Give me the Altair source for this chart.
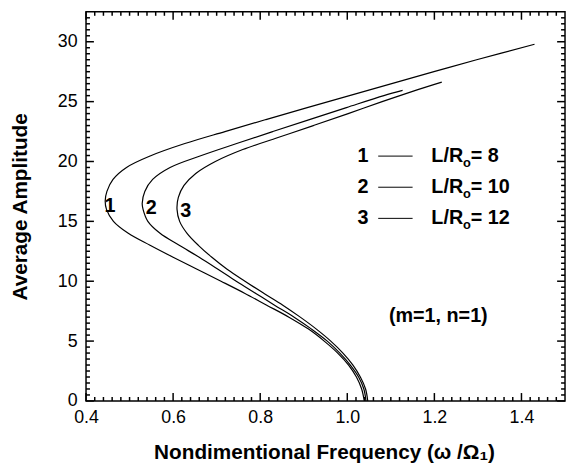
import altair as alt
import pandas as pd
import numpy as np

# ---- curve data: amplitude levels and frequency of each curve ----
c1_y = [0, 1, 2, 3, 4, 5, 6, 7, 8, 9, 10, 11, 12, 13, 14, 15, 16, 16.7, 17.5, 18.5, 19.5, 20.5, 21.5, 22.5,
        23.5, 24.5, 25.5, 26.5, 27.5, 28.5, 29.79]
c1_x = [1.039, 1.033, 1.021, 1.003, 0.978, 0.947, 0.911, 0.866, 0.815, 0.764, 0.710, 0.655, 0.600, 0.547,
        0.497, 0.463, 0.447, 0.444, 0.448, 0.462, 0.493, 0.550, 0.627, 0.719, 0.813, 0.908, 1.005, 1.102,
        1.199, 1.297, 1.430]
c2_y = [0, 1, 2, 3, 4, 5, 6, 7, 8, 9, 10, 11, 12, 13, 14, 15, 16, 16.5, 17.5, 18.5, 19.5, 20.5, 21.5, 22.5,
        23.5, 24.5, 25.5, 25.94]
c2_x = [1.043, 1.038, 1.026, 1.007, 0.983, 0.954, 0.918, 0.878, 0.833, 0.789, 0.745, 0.703, 0.660, 0.614,
        0.570, 0.542, 0.531, 0.529, 0.535, 0.553, 0.593, 0.665, 0.746, 0.829, 0.913, 0.998, 1.084, 1.127]
c3_y = [0, 1, 2, 3, 4, 5, 6, 7, 8, 9, 10, 11, 12, 13, 14, 15, 16, 17, 18, 19, 20, 21, 22, 23, 24, 25, 26,
        26.63]
c3_x = [1.047, 1.042, 1.030, 1.013, 0.990, 0.962, 0.929, 0.892, 0.852, 0.808, 0.765, 0.724, 0.689, 0.658,
        0.632, 0.615, 0.609, 0.612, 0.625, 0.652, 0.697, 0.760, 0.841, 0.922, 1.002, 1.080, 1.162, 1.217]

curve_names = ["1", "2", "3"]
ratios = ["8", "10", "12"]

# annotation positions (data units)
label_x = [0.455, 0.550, 0.629]
label_y = [16.3, 16.1, 15.9]
legend_y = [20.45, 17.85, 15.25]
legend_num_x = 1.036
legend_line_x = [1.071, 1.150]
legend_text_x = 1.193
note_text = "(m=1, n=1)"
note_x, note_y = 1.209, 7.1

x_major = [0.4, 0.6, 0.8, 1.0, 1.2, 1.4]
y_major = [0, 5, 10, 15, 20, 25, 30]

rows = []
for name, xs_, ys_ in zip(curve_names, [c1_x, c2_x, c3_x], [c1_y, c2_y, c3_y]):
    for i, (a, b) in enumerate(zip(xs_, ys_)):
        rows.append({"curve": name, "x": a, "y": b, "order": i})
df = pd.DataFrame(rows)

W, H = 485, 394
FONT = "Liberation Sans"
xsc = alt.Scale(domain=[0.4, 1.5], nice=False, zero=False)
ysc = alt.Scale(domain=[0, 32.5], nice=False, zero=False)

X_AXIS = alt.Axis(values=x_major, format=".1f", title="Nondimentional Frequency (ω /Ω₁)",
                  labelPadding=8, labelFlush=False, titleX=241, titleY=52,
                  titleBaseline="middle", titleAlign="center")
Y_AXIS = alt.Axis(values=y_major, format="d", title="Average Amplitude",
                  labelPadding=9, labelFlush=False, titleX=-66, titleY=H / 2,
                  titleBaseline="middle", titleAlign="center", titleAngle=270)


def X(field, **kw):
    return alt.X(field, scale=xsc, axis=X_AXIS, **kw)


def Y(field, **kw):
    return alt.Y(field, scale=ysc, axis=Y_AXIS, **kw)


lines = alt.Chart(df).mark_line(color="black", strokeWidth=1.2, interpolate="catmull-rom").encode(
    x=X("x:Q"), y=Y("y:Q"), detail="curve:N", order="order:Q")

x_minor = [round(v, 2) for v in np.arange(0.42, 1.5, 0.02) if abs(round(v / 0.2) * 0.2 - v) > 1e-6]
y_minor = [round(v, 1) for v in np.arange(0.5, 32.5, 0.5) if abs(v % 5) > 1e-6]


def xticks(vals, length, top):
    d = pd.DataFrame({"x": vals})
    if top:
        yy, yy2 = alt.value(0), alt.value(length)
    else:
        yy, yy2 = alt.value(H), alt.value(H - length)
    return alt.Chart(d).mark_rule(color="black", strokeWidth=1.5).encode(x=X("x:Q"), y=yy, y2=yy2)


def yticks(vals, length, right):
    d = pd.DataFrame({"y": vals})
    if right:
        xx, xx2 = alt.value(W), alt.value(W - length)
    else:
        xx, xx2 = alt.value(0), alt.value(length)
    return alt.Chart(d).mark_rule(color="black", strokeWidth=1.5).encode(y=Y("y:Q"), x=xx, x2=xx2)


ticks = [
    xticks(x_minor, 4, False), xticks(x_major, 8, False),
    xticks(x_minor, 4, True), xticks(x_major, 8, True),
    yticks(y_minor, 4, False), yticks(y_major, 8, False),
    yticks(y_minor, 4, True), yticks(y_major, 8, True),
]

TXT = dict(font=FONT, fontWeight="bold", color="black", baseline="middle")

lab_df = pd.DataFrame({"x": label_x, "y": label_y, "t": curve_names})
curve_labels = alt.Chart(lab_df).mark_text(fontSize=20, align="center", **TXT).encode(
    x=X("x:Q"), y=Y("y:Q"), text="t:N")

leg_df = pd.DataFrame({"y": legend_y, "num": curve_names,
                       "x": [legend_num_x] * 3, "x0": [legend_line_x[0]] * 3, "x1": [legend_line_x[1]] * 3,
                       "xt": [legend_text_x] * 3, "eq": ["= " + r for r in ratios]})
leg_nums = alt.Chart(leg_df).mark_text(fontSize=20, align="center", **TXT).encode(
    x=X("x:Q"), y=Y("y:Q"), text="num:N")
leg_lines = alt.Chart(leg_df).mark_rule(color="black", strokeWidth=1).encode(
    x=X("x0:Q"), x2="x1:Q", y=Y("y:Q"))
leg_lr = alt.Chart(leg_df).mark_text(fontSize=20, align="left", text="L/R", **TXT).encode(
    x=X("xt:Q"), y=Y("y:Q"))
leg_sub = alt.Chart(leg_df).mark_text(fontSize=13, align="left", text="o", dx=32, dy=7, **TXT).encode(
    x=X("xt:Q"), y=Y("y:Q"))
leg_eq = alt.Chart(leg_df).mark_text(fontSize=20, align="left", dx=40, **TXT).encode(
    x=X("xt:Q"), y=Y("y:Q"), text="eq:N")

note_df = pd.DataFrame({"x": [note_x], "y": [note_y], "t": [note_text]})
note = alt.Chart(note_df).mark_text(fontSize=20, align="center", **TXT).encode(
    x=X("x:Q"), y=Y("y:Q"), text="t:N")

chart = alt.layer(lines, *ticks, curve_labels, leg_nums, leg_lines, leg_lr, leg_sub, leg_eq, note).properties(
    width=W, height=H,
    autosize=alt.AutoSizeParams(type="none"),
    padding={"left": 79, "top": 1, "right": 1, "bottom": 64},
    background="white",
).configure_view(stroke="black", strokeWidth=1.5).configure_axis(
    domain=False, ticks=False, tickSize=0, grid=False,
    labelFont=FONT, labelFontSize=18, labelColor="black",
    titleFont=FONT, titleFontSize=21, titleFontWeight="bold", titleColor="black",
)

chart.save("out.html", embed_options={"renderer": "svg", "actions": False})
